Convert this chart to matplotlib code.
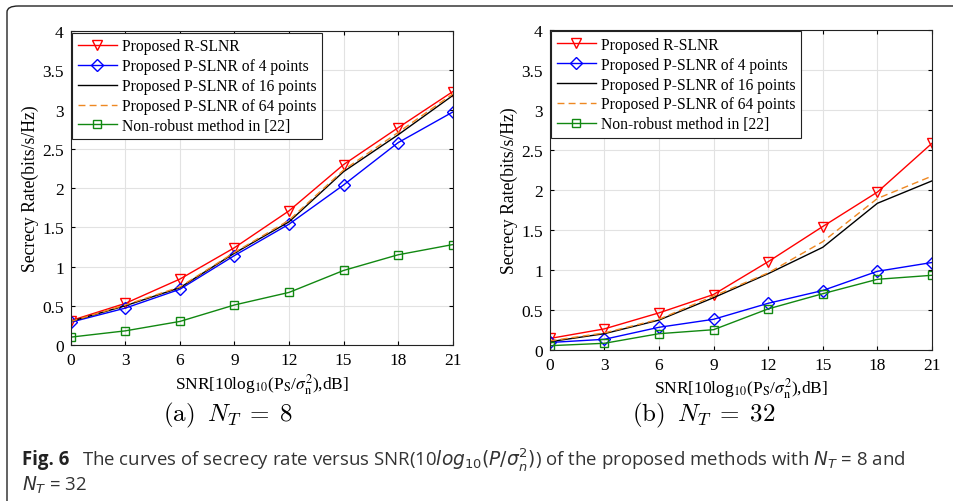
import matplotlib
matplotlib.use("Agg")
import matplotlib.pyplot as plt
from matplotlib.patches import FancyBboxPatch

plt.rcParams["font.family"] = ["Liberation Serif", "DejaVu Serif"]
plt.rcParams["mathtext.fontset"] = "stix"

# --- data ---
snr = [0, 3, 6, 9, 12, 15, 18, 21]
labels = ["Proposed R-SLNR", "Proposed P-SLNR of 4 points",
          "Proposed P-SLNR of 16 points", "Proposed P-SLNR of 64 points",
          "Non-robust method in [22]"]

# (a) N_T = 8
r_slnr_8 = [0.31, 0.53, 0.84, 1.24, 1.71, 2.30, 2.77, 3.23]
p4_8 = [0.29, 0.47, 0.71, 1.14, 1.54, 2.04, 2.58, 2.97]
p16_8 = [0.30, 0.50, 0.73, 1.17, 1.57, 2.21, 2.68, 3.18]
p64_8 = [0.30, 0.51, 0.74, 1.18, 1.59, 2.23, 2.71, 3.20]
nonrobust_8 = [0.10, 0.18, 0.30, 0.51, 0.67, 0.95, 1.15, 1.28]

# (b) N_T = 32
r_slnr_32 = [0.14, 0.26, 0.46, 0.69, 1.10, 1.54, 1.97, 2.58]
p4_32 = [0.09, 0.13, 0.28, 0.38, 0.58, 0.74, 0.98, 1.09]
p16_32 = [0.10, 0.20, 0.37, 0.65, 0.95, 1.28, 1.83, 2.11]
p64_32 = [0.11, 0.21, 0.38, 0.67, 0.96, 1.35, 1.89, 2.17]
nonrobust_32 = [0.05, 0.08, 0.20, 0.25, 0.51, 0.70, 0.88, 0.93]

fig = plt.figure(figsize=(9.54, 5.02), dpi=100)

# page frame with rounded corner
frame = FancyBboxPatch((7 / 954, -0.2), 1.2, 1.2 - 7 / 502,
                       boxstyle="round,pad=0,rounding_size=0.012",
                       transform=fig.transFigure, fill=False,
                       edgecolor="#222222", linewidth=1.0)
fig.patches.append(frame)


def draw_panel(ax, rs, p4, p16, p64, nr):
    ax.plot(snr, rs, color="red", marker="v", markersize=7.5, mfc="none", lw=1.0, label=labels[0])
    ax.plot(snr, p4, color="blue", marker="D", markersize=6.5, mfc="none", lw=1.0, label=labels[1])
    ax.plot(snr, p16, color="black", lw=1.0, label=labels[2])
    ax.plot(snr, p64, color="#EE8822", lw=1.0, dashes=(5, 3), label=labels[3])
    ax.plot(snr, nr, color="#118811", marker="s", markersize=5.5, mfc="none", lw=1.0, label=labels[4])
    ax.set_xlim(0, 21)
    ax.set_ylim(0, 4)
    ax.set_xticks(snr)
    ax.set_yticks([0, 0.5, 1, 1.5, 2, 2.5, 3, 3.5, 4])
    ax.set_yticklabels(["0", "0.5", "1", "1.5", "2", "2.5", "3", "3.5", "4"])
    ax.grid(True, color="#e2e2e2", lw=0.8)
    ax.set_axisbelow(True)
    ax.tick_params(direction="in", labelsize=12.5, top=True, right=True, length=3, pad=5)
    for s in ax.spines.values():
        s.set_linewidth(0.8)
        s.set_color("#222222")
    ax.set_xlabel(r"SNR[10log$_{10}$(P$_{\rm S}$/$\sigma_{\rm n}^2$),dB]", fontsize=12.5, labelpad=2)
    ax.set_ylabel("Secrecy Rate(bits/s/Hz)", fontsize=12.7, labelpad=2)
    leg = ax.legend(loc="upper left", fontsize=11.25, fancybox=False, framealpha=1,
                    edgecolor="#222222", borderaxespad=0.1, handlelength=2.5,
                    labelspacing=0.25, borderpad=0.35, handletextpad=0.35)
    leg.get_frame().set_linewidth(0.8)


ax1 = fig.add_axes([0.0741, 0.3108, 0.4004, 0.6249])
draw_panel(ax1, r_slnr_8, p4_8, p16_8, p64_8, nonrobust_8)
ax2 = fig.add_axes([0.5762, 0.3014, 0.4007, 0.6374])
draw_panel(ax2, r_slnr_32, p4_32, p16_32, p64_32, nonrobust_32)

fig.text(163 / 954, 1 - 415 / 502, r"$\mathrm{(a)}\;\;N_T\;=\;8$", fontsize=18,
         ha="left", va="center", math_fontfamily="cm")
fig.text(632 / 954, 1 - 415 / 502, r"$\mathrm{(b)}\;\;N_T\;=\;32$", fontsize=18,
         ha="left", va="center", math_fontfamily="cm")

# figure caption
cap_font = ["Open Sans", "DejaVu Sans"]
fig.text(22 / 954, 1 - 460 / 502, "Fig. 6", fontsize=13.4, fontweight="bold",
         family=cap_font, va="center", color="#222222")
fig.text(82 / 954, 1 - 460 / 502,
         r"The curves of secrecy rate versus SNR(10$log_{10}(P/\sigma_n^2)$) of the proposed methods with $N_T$ = 8 and",
         fontsize=13.4, family=cap_font, va="center", color="#333333", math_fontfamily="dejavusans")
fig.text(22 / 954, 1 - 485 / 502, r"$N_T$ = 32", fontsize=13.4, family=cap_font,
         va="center", color="#333333", math_fontfamily="dejavusans")

fig.savefig("out.png", dpi=100)
